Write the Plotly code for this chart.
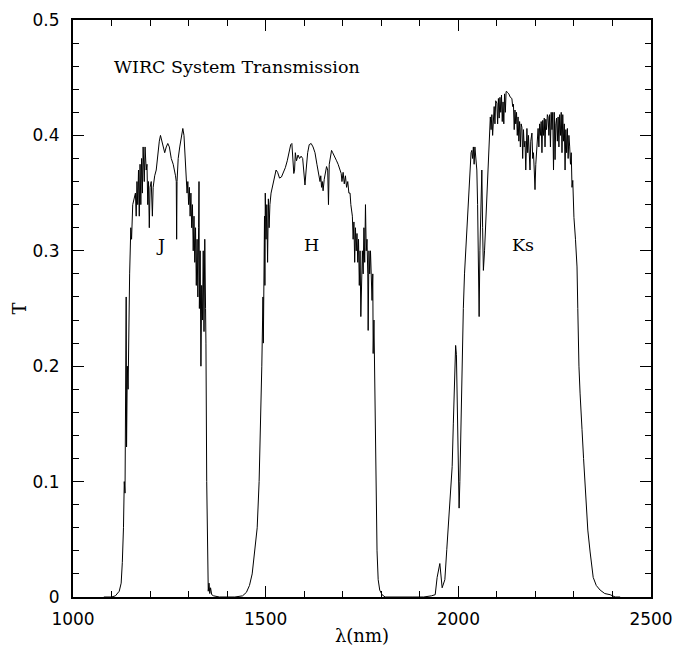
import plotly.graph_objects as go

# ---- J band ----
j_wl = [1080, 1100, 1110, 1120, 1125, 1128, 1131, 1133, 1135, 1136, 1137, 1138, 1139, 1141, 1143, 1145,
        1147, 1150, 1152, 1155, 1158, 1162, 1164, 1166, 1168, 1170, 1172, 1174, 1176, 1178, 1180, 1182,
        1185, 1187, 1190, 1192, 1194, 1196, 1198, 1200, 1203, 1206, 1208, 1212, 1216, 1220, 1224, 1227,
        1230, 1234, 1238, 1242, 1246, 1250, 1255, 1260, 1264, 1266, 1268, 1269, 1270, 1273, 1277, 1281,
        1285, 1288, 1291, 1294, 1296, 1298, 1300, 1302, 1304, 1306, 1308, 1310, 1312, 1314, 1316, 1318,
        1320, 1322, 1324, 1326, 1327, 1328, 1330, 1332, 1334, 1336, 1338, 1340, 1342, 1344, 1345, 1347,
        1349, 1351, 1353, 1355, 1357, 1360, 1365, 1380]
j_t = [0.0, 0.0, 0.001, 0.005, 0.012, 0.03, 0.06, 0.10, 0.09, 0.16, 0.12, 0.26, 0.13, 0.20, 0.18, 0.24,
       0.28, 0.32, 0.31, 0.34, 0.345, 0.35, 0.33, 0.36, 0.34, 0.37, 0.33, 0.375, 0.34, 0.38, 0.35, 0.39,
       0.36, 0.39, 0.37, 0.375, 0.34, 0.36, 0.32, 0.355, 0.36, 0.33, 0.355, 0.365, 0.37, 0.385, 0.395, 0.40,
       0.395, 0.39, 0.385, 0.39, 0.393, 0.39, 0.38, 0.375, 0.37, 0.365, 0.36, 0.31, 0.36, 0.38, 0.39, 0.40,
       0.406, 0.40, 0.38, 0.37, 0.35, 0.36, 0.34, 0.355, 0.33, 0.35, 0.32, 0.34, 0.30, 0.33, 0.29, 0.32,
       0.27, 0.31, 0.26, 0.32, 0.36, 0.25, 0.30, 0.20, 0.27, 0.24, 0.30, 0.23, 0.31, 0.25, 0.22, 0.10,
       0.02, 0.005, 0.012, 0.003, 0.008, 0.002, 0.001, 0.0]

# ---- H band ----
h_wl = [1420, 1440, 1450, 1458, 1465, 1472, 1478, 1483, 1487, 1490, 1492, 1493, 1494, 1495, 1496, 1497,
        1498, 1499, 1501, 1503, 1505, 1507, 1509, 1511, 1514, 1517, 1520, 1523, 1527, 1531, 1536, 1541,
        1546, 1551, 1556, 1561, 1565, 1568, 1571, 1573, 1575, 1577, 1580, 1584, 1588, 1592, 1596, 1599,
        1602, 1605, 1609, 1613, 1618, 1623, 1628, 1633, 1638, 1641, 1643, 1645, 1647, 1649, 1652, 1655,
        1658, 1661, 1663, 1665, 1668, 1671, 1674, 1677, 1680, 1684, 1688, 1692, 1696, 1698, 1701, 1704,
        1707, 1710, 1713, 1716, 1719, 1721, 1723, 1725, 1727, 1729, 1731, 1733, 1735, 1737, 1739, 1741,
        1743, 1745, 1747, 1749, 1751, 1753, 1755, 1757, 1759, 1761, 1763, 1765, 1766, 1768, 1770, 1772,
        1774, 1776, 1778, 1779, 1781, 1783, 1786, 1789, 1792, 1796, 1802, 1810]
h_t = [0.0, 0.001, 0.004, 0.01, 0.02, 0.04, 0.06, 0.10, 0.15, 0.20, 0.24, 0.26, 0.22, 0.30, 0.25, 0.33,
       0.27, 0.35, 0.31, 0.34, 0.29, 0.345, 0.32, 0.34, 0.35, 0.355, 0.36, 0.365, 0.37, 0.368, 0.363, 0.364,
       0.368, 0.372, 0.378, 0.385, 0.392, 0.393, 0.38, 0.367, 0.37, 0.385, 0.378, 0.383, 0.38, 0.382, 0.38, 0.37,
       0.357, 0.37, 0.385, 0.392, 0.393, 0.39, 0.385, 0.375, 0.365, 0.36, 0.365, 0.355, 0.36, 0.352, 0.362, 0.368,
       0.373, 0.37, 0.34, 0.375, 0.382, 0.387, 0.385, 0.383, 0.382, 0.378, 0.375, 0.37, 0.367, 0.36, 0.368, 0.358,
       0.365, 0.355, 0.36, 0.35, 0.35, 0.34, 0.333, 0.33, 0.31, 0.325, 0.29, 0.32, 0.30, 0.315, 0.29, 0.31,
       0.27, 0.30, 0.243, 0.29, 0.30, 0.28, 0.32, 0.29, 0.34, 0.30, 0.31, 0.28, 0.231, 0.30, 0.28, 0.30,
       0.27, 0.257, 0.28, 0.211, 0.24, 0.18, 0.10, 0.04, 0.015, 0.006, 0.002, 0.0]

# ---- Ks band ----
k_wl = [1880, 1910, 1930, 1940, 1945, 1952, 1958, 1965, 1970, 1975, 1978, 1981, 1984, 1987, 1989, 1991,
        1993, 1995, 1997, 1999, 2001, 2002, 2004, 2006, 2008, 2010, 2013, 2016, 2019, 2022, 2024, 2026,
        2028, 2031, 2033, 2035, 2037, 2039, 2041, 2043, 2045, 2048, 2050, 2052, 2054, 2056, 2058, 2061,
        2063, 2065, 2068, 2072, 2075, 2078, 2080, 2083, 2085, 2087, 2089, 2091, 2093, 2095, 2097, 2100,
        2102, 2104, 2106, 2108, 2110, 2112, 2114, 2116, 2118, 2120, 2122, 2124, 2126, 2128, 2131, 2135,
        2139, 2141, 2143, 2145, 2147, 2149, 2151, 2153, 2155, 2157, 2159, 2161, 2163, 2165, 2167, 2169,
        2171, 2173, 2175, 2178, 2180, 2182, 2184, 2186, 2188, 2191, 2193, 2195, 2197, 2199, 2201, 2203,
        2205, 2207, 2209, 2211, 2213, 2215, 2217, 2219, 2221, 2223, 2225, 2227, 2229, 2231, 2233, 2235,
        2237, 2239, 2241, 2243, 2245, 2247, 2249, 2251, 2253, 2255, 2257, 2259, 2261, 2263, 2265, 2267,
        2269, 2271, 2273, 2275, 2277, 2279, 2281, 2283, 2285, 2287, 2289, 2291, 2293, 2295, 2297, 2299,
        2300, 2304, 2308, 2310, 2311, 2313, 2316, 2318, 2321, 2325, 2329, 2333, 2336, 2342, 2350, 2358,
        2368, 2380, 2394, 2407, 2420]
k_t = [0.0, 0.0, 0.001, 0.002, 0.017, 0.029, 0.008, 0.015, 0.041, 0.07, 0.084, 0.10, 0.113, 0.15, 0.171, 0.20,
       0.218, 0.21, 0.17, 0.12, 0.09, 0.077, 0.10, 0.14, 0.18, 0.217, 0.25, 0.28, 0.30, 0.318, 0.335, 0.347,
       0.36, 0.375, 0.385, 0.387, 0.38, 0.39, 0.375, 0.39, 0.38, 0.37, 0.34, 0.29, 0.243, 0.30, 0.34, 0.37,
       0.32, 0.283, 0.30, 0.333, 0.355, 0.379, 0.40, 0.416, 0.405, 0.418, 0.40, 0.413, 0.425, 0.41, 0.43, 0.428,
       0.41, 0.432, 0.415, 0.433, 0.42, 0.435, 0.412, 0.429, 0.41, 0.436, 0.42, 0.438, 0.438, 0.437, 0.436, 0.433,
       0.432, 0.425, 0.427, 0.405, 0.422, 0.41, 0.42, 0.40, 0.416, 0.395, 0.412, 0.39, 0.41, 0.407, 0.38, 0.405,
       0.39, 0.395, 0.37, 0.406, 0.385, 0.40, 0.38, 0.37, 0.395, 0.402, 0.38, 0.385, 0.37, 0.353, 0.375, 0.39,
       0.40, 0.406, 0.39, 0.41, 0.40, 0.412, 0.385, 0.413, 0.40, 0.415, 0.39, 0.414, 0.405, 0.418, 0.416, 0.40,
       0.418, 0.39, 0.42, 0.405, 0.42, 0.37, 0.42, 0.379, 0.41, 0.415, 0.395, 0.416, 0.39, 0.418, 0.40, 0.42,
       0.385, 0.418, 0.395, 0.41, 0.37, 0.405, 0.385, 0.406, 0.38, 0.40, 0.39, 0.375, 0.385, 0.355, 0.361, 0.34,
       0.329, 0.31, 0.286, 0.25, 0.231, 0.20, 0.176, 0.16, 0.145, 0.12, 0.099, 0.075, 0.058, 0.039, 0.017, 0.01,
       0.006, 0.003, 0.002, 0.0, 0.0]

band_labels = ["J", "H", "Ks"]
band_label_x = [1228, 1618, 2168]
band_label_y = [0.305, 0.305, 0.305]

x_ticks = [1000, 1500, 2000, 2500]
y_ticks = [0, 0.1, 0.2, 0.3, 0.4, 0.5]

wl = j_wl + h_wl + k_wl
tr = j_t + h_t + k_t

fig = go.Figure()
fig.add_trace(go.Scatter(x=wl, y=tr, mode="lines",
                         line=dict(color="black", width=1), showlegend=False))

serif = "DejaVu Serif"
sans = "DejaVu Sans"

for lab, lx, ly in zip(band_labels, band_label_x, band_label_y):
    fig.add_annotation(x=lx, y=ly, text=lab, showarrow=False,
                       font=dict(family=serif, size=17.5, color="black"))

fig.add_annotation(x=1101, y=0.4593, text="WIRC System Transmission", showarrow=False,
                   xanchor="left", font=dict(family=serif, size=17.5, color="black"))

axis_common = dict(showgrid=False, zeroline=False, showline=True, linecolor="black",
                   linewidth=2, mirror="ticks", ticks="inside", ticklen=11, tickwidth=1,
                   tickcolor="black", automargin=False,
                   tickfont=dict(family=sans, size=17, color="black"))

fig.update_xaxes(range=[1000, 2500], tickvals=x_ticks, ticktext=[str(v) for v in x_ticks],
                 minor=dict(ticks="inside", dtick=100, ticklen=6, tickcolor="black", tickwidth=1),
                 title=dict(text="λ(nm)", font=dict(family=serif, size=18, color="black"), standoff=3),
                 ticklabelstandoff=6, **axis_common)
fig.update_yaxes(range=[0, 0.5], tickvals=y_ticks, ticktext=["0", "0.1", "0.2", "0.3", "0.4", "0.5"],
                 minor=dict(ticks="inside", dtick=0.02, ticklen=6, tickcolor="black", tickwidth=1),
                 title=dict(text="T", font=dict(family=serif, size=18, color="black"), standoff=1),
                 ticklabelstandoff=8, **axis_common)

fig.update_layout(width=675, height=646, margin=dict(l=73, r=24, t=20, b=49),
                  plot_bgcolor="white", paper_bgcolor="white")

fig.write_html("out.html", config={"displayModeBar": False},
               post_script="document.body.style.margin='0px';")
